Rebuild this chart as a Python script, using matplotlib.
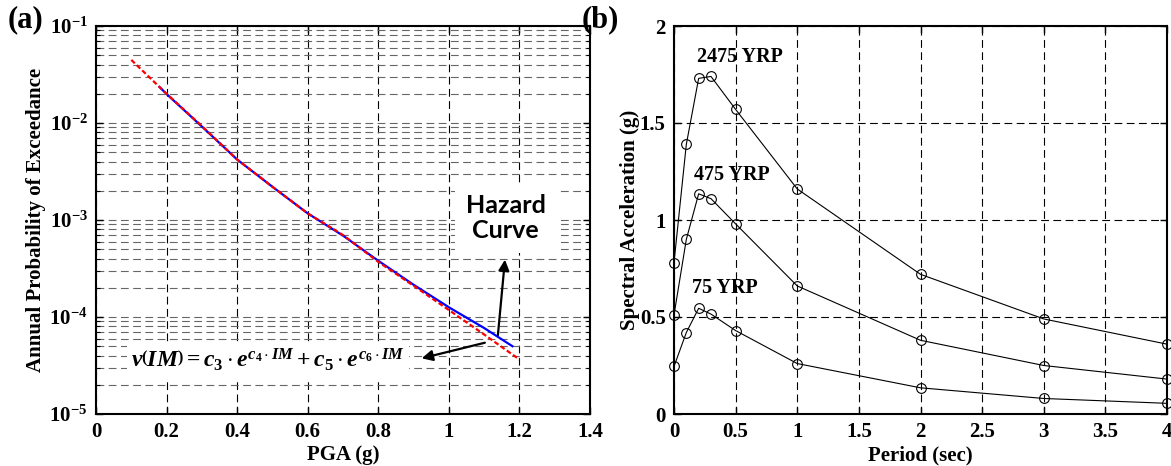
import numpy as np
import matplotlib
matplotlib.use("Agg")
import matplotlib.pyplot as plt
from matplotlib.ticker import FuncFormatter, LogLocator, NullFormatter

# (a) hazard curve
pga_data = [0.18, 0.2, 0.3, 0.4, 0.5, 0.6, 0.7, 0.8, 0.9, 1.0, 1.1, 1.18]
prob_data = [0.0235, 0.0199, 0.0092, 0.0042, 0.0022, 0.00117, 0.00069,
             0.00038, 0.000215, 0.000126, 7.7e-5, 5.0e-5]
pga_fit = [0.1, 0.2, 0.3, 0.4, 0.5, 0.6, 0.7, 0.8, 0.9, 1.0, 1.1, 1.2]
prob_fit = [0.0447, 0.0200, 0.0093, 0.0042, 0.0022, 0.00117, 0.0007,
            0.00037, 0.00021, 0.000118, 6.6e-5, 3.65e-5]

# (b) uniform hazard spectra
period = [0, 0.1, 0.2, 0.3, 0.5, 1, 2, 3, 4]
sa_2475 = [0.78, 1.39, 1.73, 1.74, 1.57, 1.16, 0.72, 0.49, 0.36]
sa_475 = [0.51, 0.90, 1.135, 1.11, 0.98, 0.66, 0.38, 0.25, 0.18]
sa_75 = [0.245, 0.42, 0.545, 0.515, 0.43, 0.26, 0.135, 0.08, 0.055]
yrp_labels = ["2475 YRP", "475 YRP", "75 YRP"]

plt.rcParams['font.family'] = 'Liberation Serif'
plt.rcParams['font.weight'] = 'bold'
plt.rcParams['mathtext.fontset'] = 'custom'
plt.rcParams['mathtext.rm'] = 'Liberation Serif:bold'
plt.rcParams['mathtext.bf'] = 'Liberation Serif:bold'
plt.rcParams['mathtext.it'] = 'Liberation Serif:italic:bold'

fig = plt.figure(figsize=(11.71, 4.66), dpi=100)
ax1 = fig.add_axes([96/1171, 52/466, 494/1171, 388/466])
ax2 = fig.add_axes([674/1171, 52/466, 493/1171, 388/466])

dash = (0, (7, 4))

# --- panel (a)
ax1.plot(pga_data, prob_data, color='blue', lw=1.6)
ax1.plot(pga_fit, prob_fit, color='red', lw=1.6, ls=(0, (2.2, 1.2)))
ax1.set_yscale('log')
ax1.set_xlim(0, 1.4)
ax1.set_ylim(1e-5, 1e-1)
ax1.set_xticks(np.arange(0, 1.41, 0.2))
ax1.xaxis.set_major_formatter(FuncFormatter(lambda v, p: "%g" % round(v, 1)))
ax1.yaxis.set_major_locator(LogLocator(base=10))
ax1.yaxis.set_minor_locator(LogLocator(base=10, subs=np.arange(2, 10)))
ax1.yaxis.set_minor_formatter(NullFormatter())
ax1.yaxis.set_major_formatter(FuncFormatter(
    lambda v, p: r"$\mathbf{10^{%d}}$" % round(np.log10(v))))
ax1.xaxis.grid(True, ls=dash, color='black', lw=0.8)
ax1.yaxis.grid(True, which='both', ls=dash, color='0.4', lw=0.8)
ax1.set_axisbelow(True)
ax1.set_xlabel("PGA (g)", fontsize=15, fontweight='bold', labelpad=2)
ax1.set_ylabel("Annual Probability of Exceedance", fontsize=15,
               fontweight='bold', labelpad=2)

ax1.text(1.161, 1.05e-3, "Hazard\nCurve", family='Lato', fontweight='bold',
         fontsize=18, ha='center', va='center', linespacing=1.1,
         bbox=dict(facecolor='white', edgecolor='none', pad=8))
ax1.text(0.1, 3.6e-5,
         r"$v\left(IM\right)=c_3\cdot e^{c_4\cdot IM}+c_5\cdot e^{c_6\cdot IM}$",
         fontsize=17, ha='left', va='center',
         bbox=dict(facecolor='white', edgecolor='none', pad=3))
arrow = dict(arrowstyle='-|>', color='black', lw=1.6, mutation_scale=16,
             shrinkA=0, shrinkB=0)
ax1.annotate("", xy=(1.159, 3.9e-4), xytext=(1.139, 6.5e-5), arrowprops=arrow)
ax1.annotate("", xy=(0.923, 3.75e-5), xytext=(1.102, 5.43e-5), arrowprops=arrow)

# --- panel (b)
for sa in (sa_2475, sa_475, sa_75):
    ax2.plot(period, sa, color='black', lw=0.8, marker='o', ms=7,
             mfc='none', mec='black', mew=0.8, clip_on=False)
ax2.set_xlim(0, 4)
ax2.set_ylim(0, 2)
ax2.set_xticks(np.arange(0, 4.01, 0.5))
ax2.set_yticks(np.arange(0, 2.01, 0.5))
fmt = FuncFormatter(lambda v, p: "%g" % v)
ax2.xaxis.set_major_formatter(fmt)
ax2.yaxis.set_major_formatter(fmt)
ax2.grid(True, ls=dash, color='black', lw=0.8)
ax2.set_axisbelow(True)
ax2.set_xlabel("Period (sec)", fontsize=15, fontweight='bold', labelpad=2)
ax2.set_ylabel("Spectral Acceleration (g)", fontsize=15, fontweight='bold',
               labelpad=0)
label_pos = [(0.19, 1.84), (0.16, 1.23), (0.15, 0.65)]
for (x, y), s in zip(label_pos, yrp_labels):
    ax2.text(x, y, s, fontsize=14.5, fontweight='bold', ha='left', va='center')

for ax in (ax1, ax2):
    for sp in ax.spines.values():
        sp.set_linewidth(1.5)
    ax.tick_params(which='both', direction='in', top=True, right=True,
                   labelsize=15, pad=6)
    ax.tick_params(which='major', length=5, width=1)
    ax.tick_params(which='minor', length=3, width=0.8)

fig.text(8/1171, 1 - 20/466, "(a)", fontsize=22, fontweight='bold', va='center')
fig.text(582/1171, 1 - 20/466, "(b)", fontsize=22, fontweight='bold', va='center')

fig.savefig("out.png", dpi=100)
